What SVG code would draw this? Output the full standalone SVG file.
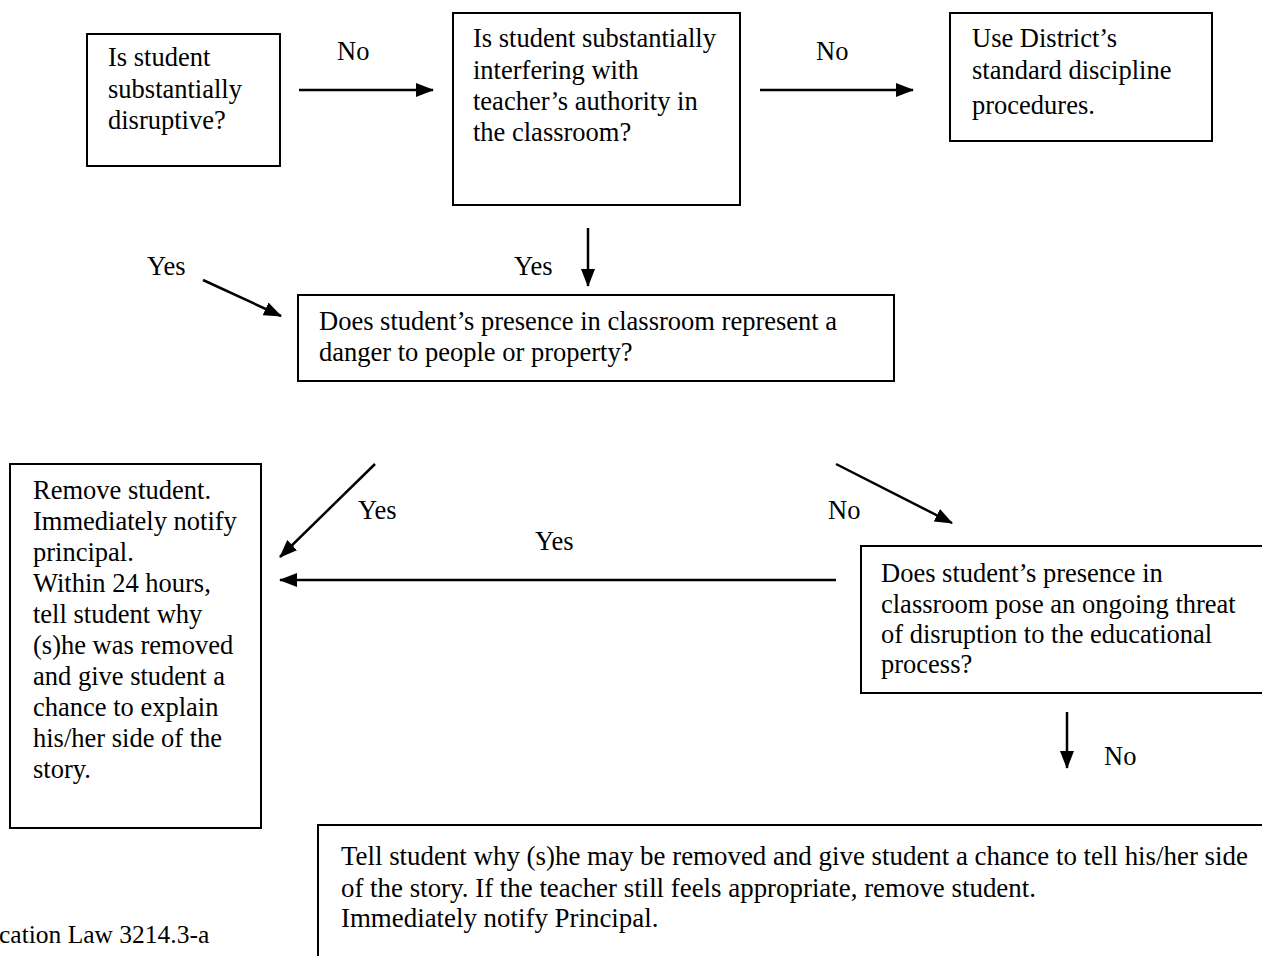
<svg xmlns="http://www.w3.org/2000/svg" width="1262" height="956" viewBox="0 0 1262 956">
<style>
  .box { fill: #ffffff; stroke: #000000; stroke-width: 2; }
  .t { font-family: "Liberation Serif", "Times New Roman", serif; font-size: 26.5px; fill: #000000; }
  .t7 { font-size: 26.9px; }
  .foot { font-size: 25.5px; }
  .conn { stroke: #000000; stroke-width: 2.5; fill: none; marker-end: url(#arrow); }
</style>
<defs>
  <marker id="arrow" markerUnits="userSpaceOnUse" markerWidth="18" markerHeight="14" refX="17" refY="7" orient="auto">
    <path d="M0,0 L18,7 L0,14 z" fill="#000000"/>
  </marker>
</defs>
<rect x="0" y="0" width="1262" height="956" fill="#ffffff"/>

<g id="node-disruptive">
  <rect class="box" x="87" y="34" width="193" height="132"/>
  <text class="t" x="108" y="66">Is student</text>
  <text class="t" x="108" y="98">substantially</text>
  <text class="t" x="108" y="129">disruptive?</text>
</g>

<g id="node-interfering">
  <rect class="box" x="453" y="13" width="287" height="192"/>
  <text class="t" x="473" y="47">Is student substantially</text>
  <text class="t" x="473" y="79">interfering with</text>
  <text class="t" x="473" y="110">teacher’s authority in</text>
  <text class="t" x="473" y="141">the classroom?</text>
</g>

<g id="node-standard">
  <rect class="box" x="950" y="13" width="262" height="128"/>
  <text class="t" x="972" y="47">Use District’s</text>
  <text class="t" x="972" y="79">standard discipline</text>
  <text class="t" x="972" y="114">procedures.</text>
</g>

<g id="node-danger">
  <rect class="box" x="298" y="295" width="596" height="86"/>
  <text class="t" x="319" y="330">Does student’s presence in classroom represent a</text>
  <text class="t" x="319" y="361">danger to people or property?</text>
</g>

<g id="node-remove">
  <rect class="box" x="10" y="464" width="251" height="364"/>
  <text class="t" x="33" y="499">Remove student.</text>
  <text class="t" x="33" y="530">Immediately notify</text>
  <text class="t" x="33" y="561">principal.</text>
  <text class="t" x="33" y="592">Within 24 hours,</text>
  <text class="t" x="33" y="623">tell student why</text>
  <text class="t" x="33" y="654">(s)he was removed</text>
  <text class="t" x="33" y="685">and give student a</text>
  <text class="t" x="33" y="716">chance to explain</text>
  <text class="t" x="33" y="747">his/her side of the</text>
  <text class="t" x="33" y="778">story.</text>
</g>

<g id="node-ongoing">
  <rect class="box" x="861" y="546" width="420" height="147"/>
  <text class="t" x="881" y="582">Does student’s presence in</text>
  <text class="t" x="881" y="613">classroom pose an ongoing threat</text>
  <text class="t" x="881" y="643">of disruption to the educational</text>
  <text class="t" x="881" y="673">process?</text>
</g>

<g id="node-tell">
  <rect class="box" x="318" y="825" width="1000" height="200"/>
  <text class="t t7" x="341" y="865">Tell student why (s)he may be removed and give student a chance to tell his/her side</text>
  <text class="t t7" x="341" y="897">of the story. If the teacher still feels appropriate, remove student.</text>
  <text class="t t7" x="341" y="927">Immediately notify Principal.</text>
</g>

<g id="connectors">
  <line class="conn" x1="299" y1="90" x2="433" y2="90"/>
  <line class="conn" x1="760" y1="90" x2="913" y2="90"/>
  <line class="conn" x1="588" y1="228" x2="588" y2="286"/>
  <line class="conn" x1="203" y1="280" x2="281" y2="316"/>
  <line class="conn" x1="375" y1="464" x2="280" y2="557"/>
  <line class="conn" x1="836" y1="464" x2="952" y2="523"/>
  <line class="conn" x1="836" y1="580" x2="280" y2="580"/>
  <line class="conn" x1="1067" y1="712" x2="1067" y2="768"/>
  <text class="t" x="337" y="60">No</text>
  <text class="t" x="816" y="60">No</text>
  <text class="t" x="147" y="275">Yes</text>
  <text class="t" x="514" y="275">Yes</text>
  <text class="t" x="358" y="519">Yes</text>
  <text class="t" x="828" y="519">No</text>
  <text class="t" x="535" y="550">Yes</text>
  <text class="t" x="1104" y="765">No</text>
</g>

<g id="footer">
  <text class="t foot" x="-1" y="943">cation Law 3214.3-a</text>
</g>
</svg>
